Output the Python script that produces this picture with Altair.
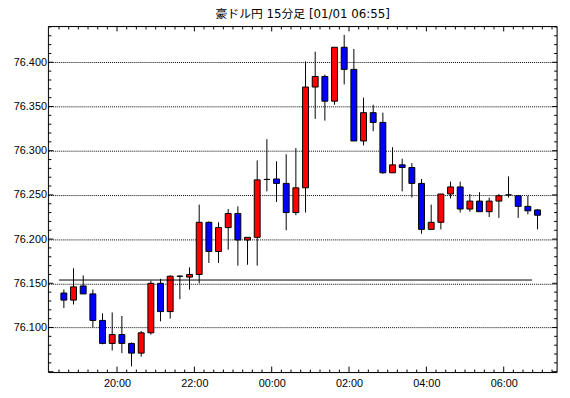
import altair as alt
import pandas as pd
import numpy as np

# 15-minute candles, 18:30 .. 06:45
times = ["18:30", "18:45", "19:00", "19:15", "19:30", "19:45", "20:00", "20:15", "20:30", "20:45",
         "21:00", "21:15", "21:30", "21:45", "22:00", "22:15", "22:30", "22:45", "23:00", "23:15",
         "23:30", "23:45", "00:00", "00:15", "00:30", "00:45", "01:00", "01:15", "01:30", "01:45",
         "02:00", "02:15", "02:30", "02:45", "03:00", "03:15", "03:30", "03:45", "04:00", "04:15",
         "04:30", "04:45", "05:00", "05:15", "05:30", "05:45", "06:00", "06:15", "06:30", "06:45"]

opens = [76.139, 76.131, 76.147, 76.138, 76.108, 76.082, 76.092, 76.082, 76.071, 76.094,
         76.150, 76.118, 76.158, 76.157, 76.160, 76.219, 76.186, 76.213, 76.229, 76.199,
         76.202, 76.2675, 76.268, 76.263, 76.230, 76.258, 76.372, 76.384, 76.356, 76.417,
         76.392, 76.311, 76.343, 76.332, 76.275, 76.284, 76.281, 76.263, 76.211, 76.219,
         76.251, 76.259, 76.234, 76.243, 76.231, 76.243, 76.250, 76.249, 76.237, 76.233]

closes = [76.131, 76.146, 76.138, 76.108, 76.082, 76.092, 76.082, 76.071, 76.094, 76.150,
          76.118, 76.158, 76.158, 76.160, 76.219, 76.186, 76.213, 76.229, 76.199, 76.202,
          76.267, 76.2675, 76.263, 76.230, 76.258, 76.372, 76.384, 76.356, 76.417, 76.392,
          76.311, 76.343, 76.332, 76.275, 76.284, 76.281, 76.263, 76.211, 76.219, 76.251,
          76.259, 76.234, 76.243, 76.231, 76.243, 76.249, 76.250, 76.237, 76.232, 76.227]

highs = [76.143, 76.167, 76.159, 76.143, 76.116, 76.117, 76.113, 76.083, 76.096, 76.153,
         76.155, 76.159, 76.159, 76.168, 76.239, 76.220, 76.219, 76.234, 76.237, 76.202,
         76.289, 76.313, 76.288, 76.296, 76.303, 76.401, 76.412, 76.386, 76.417, 76.431,
         76.415, 76.360, 76.352, 76.343, 76.304, 76.291, 76.286, 76.268, 76.239, 76.251,
         76.265, 76.265, 76.251, 76.253, 76.247, 76.251, 76.271, 76.250, 76.249, 76.234]

lows = [76.122, 76.126, 76.138, 76.100, 76.081, 76.074, 76.071, 76.056, 76.067, 76.092,
        76.107, 76.110, 76.132, 76.143, 76.150, 76.173, 76.173, 76.188, 76.170, 76.171,
        76.170, 76.254, 76.242, 76.210, 76.227, 76.230, 76.336, 76.334, 76.352, 76.375,
        76.311, 76.306, 76.322, 76.274, 76.275, 76.254, 76.247, 76.206, 76.211, 76.211,
        76.246, 76.230, 76.231, 76.231, 76.225, 76.224, 76.247, 76.224, 76.228, 76.211]

ref_level = 76.1537
ref_start = "18:30"
ref_end = "06:44"

title_text = "豪ドル円 15分足 [01/01 06:55]"
y_labels = [76.10, 76.15, 76.20, 76.25, 76.30, 76.35, 76.40]
x_labels = [20, 22, 24, 26, 28, 30]


def to_hours(s):
    hh, mm = s.split(":")
    h = int(hh) + int(mm) / 60.0
    return h + 24 if h < 12 else h


df = pd.DataFrame({"time": times, "open": opens, "close": closes, "high": highs, "low": lows})
df["t"] = [to_hours(s) + 0.125 for s in times]
df["dir"] = np.where(df["close"] > df["open"], "up", np.where(df["close"] < df["open"], "down", "flat"))

X_DOM = [18.353, 31.253]
Y_DOM = [76.0491, 76.4405]
W, H = 516, 351
xs = alt.Scale(domain=X_DOM, nice=False, zero=False)
ys = alt.Scale(domain=Y_DOM, nice=False, zero=False)

FONT = "Liberation Sans"

x_axis = alt.Axis(values=x_labels, ticks=False, domain=False, grid=False,
                  labelExpr="(datum.value % 24 < 10 ? '0' : '') + (datum.value % 24) + ':00'",
                  labelFont=FONT, labelFontSize=11, labelColor="black", labelPadding=5)
y_axis = alt.Axis(values=y_labels, format=".3f", ticks=False, domain=False, grid=True,
                  gridColor="black", gridDash=[1, 1], gridWidth=1, gridOpacity=1,
                  labelFont=FONT, labelFontSize=11, labelColor="black", labelPadding=2)


def X(field):
    return alt.X(field, scale=xs, title=None, axis=x_axis)


def Y(field):
    return alt.Y(field, scale=ys, title=None, axis=y_axis)


wicks = alt.Chart(df).mark_rule(color="black", strokeWidth=1).encode(
    x=X("t:Q"), y=Y("low:Q"), y2="high:Q",
)

bodies = alt.Chart(df).mark_bar(size=6, stroke="black", strokeWidth=1).encode(
    x=X("t:Q"), y=Y("open:Q"), y2="close:Q",
    color=alt.Color("dir:N", scale=alt.Scale(domain=["up", "down", "flat"],
                                             range=["#ff0000", "#0000ff", "#000000"]), legend=None),
)

hl = pd.DataFrame({"t1": [to_hours(ref_start)], "t2": [to_hours(ref_end)], "v": [ref_level]})
hline = alt.Chart(hl).mark_rule(color="black", strokeWidth=1).encode(
    x=X("t1:Q"), x2="t2:Q", y=Y("v:Q"),
)

# inside axis ticks (tick positions only)
xt = np.round(np.arange(18.5, 31.26, 0.25), 4)
xtick = pd.DataFrame({"t": xt, "major": [abs(v / 2 - round(v / 2)) < 1e-6 for v in xt]})
yt = np.round(np.arange(76.05, 76.441, 0.01), 4)
ytick = pd.DataFrame({"v": yt, "major": [abs(v * 20 - round(v * 20)) < 1e-6 for v in yt]})


def xt_layer(major, y0, y1):
    d = xtick[xtick["major"] == major]
    return alt.Chart(d).mark_rule(color="black", strokeWidth=1).encode(
        x=X("t:Q"), y=alt.value(y0), y2=alt.value(y1))


def yt_layer(major, x0, x1):
    d = ytick[ytick["major"] == major]
    return alt.Chart(d).mark_rule(color="black", strokeWidth=1).encode(
        y=Y("v:Q"), x=alt.value(x0), x2=alt.value(x1))


ticks = [
    xt_layer(False, H, H - 3), xt_layer(True, H, H - 6),
    xt_layer(False, 0, 3), xt_layer(True, 0, 5),
    yt_layer(False, 0, 3), yt_layer(True, 0, 5),
    yt_layer(False, W, W - 3), yt_layer(True, W, W - 5),
]

frame = alt.Chart(hl).mark_rect(fill=None, fillOpacity=0, stroke="black", strokeWidth=1).encode(
    x=alt.value(0), x2=alt.value(W), y=alt.value(0), y2=alt.value(H))

chart = alt.layer(wicks, bodies, hline, *ticks, frame).properties(
    width=W, height=H,
    title=alt.Title(title_text, font="DejaVu Sans, Noto Sans CJK JP", fontSize=12, fontWeight="normal",
                    color="black", anchor="middle", offset=5),
    padding={"left": 41, "top": 16, "right": 5, "bottom": 15},
    autosize="none",
).configure_view(stroke=None).configure(background="white")

chart.save("out.html", embed_options={"renderer": "svg", "actions": False})
